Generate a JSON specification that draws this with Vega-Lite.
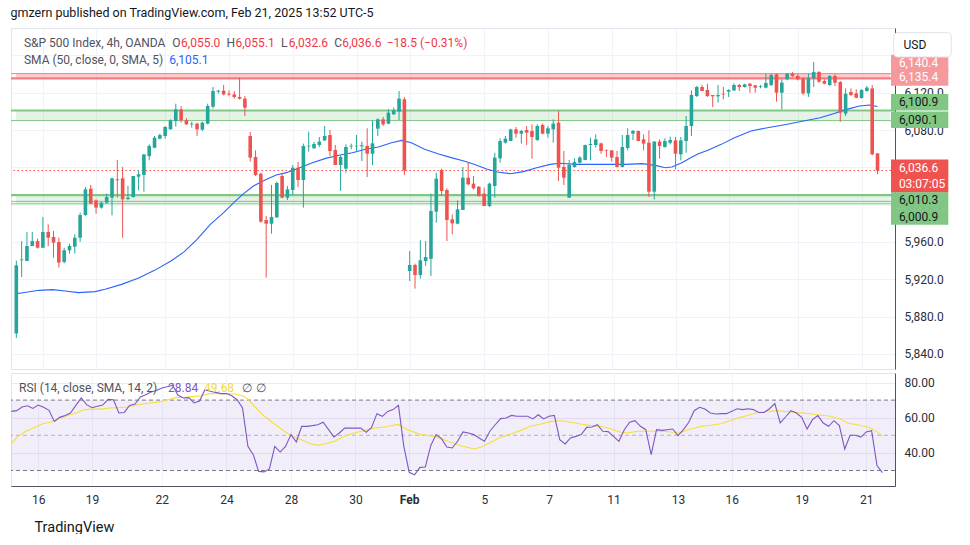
{
  "$schema": "https://vega.github.io/schema/vega-lite/v6.json",
  "padding": {"left": 10, "top": 6, "right": 0, "bottom": 0},
  "background": "white",
  "title": {"text": "gmzern published on TradingView.com, Feb 21, 2025 13:52 UTC-5", "anchor": "start", "fontSize": 12.5, "fontWeight": "normal", "font": "Roboto", "color": "#131722", "offset": 8.5},
  "spacing": 2,
  "datasets": {
    "candles": [
      {"i":0,"o":5862,"h":5940,"l":5857,"c":5935},
      {"i":1,"o":5940.4,"h":5961,"l":5922.5,"c":5941.3},
      {"i":2,"o":5939.6,"h":5970.7,"l":5939.6,"c":5955.7},
      {"i":3,"o":5955.7,"h":5970.7,"l":5955.7,"c":5961},
      {"i":4,"o":5961,"h":5963.6,"l":5952.9,"c":5953.9},
      {"i":5,"o":5953.9,"h":5986.8,"l":5953.9,"c":5970.7},
      {"i":6,"o":5970.7,"h":5978.9,"l":5955.7,"c":5964.6},
      {"i":7,"o":5965.4,"h":5971.8,"l":5943.2,"c":5959.3},
      {"i":8,"o":5960,"h":5964.6,"l":5932.5,"c":5937.9},
      {"i":9,"o":5938.6,"h":5953.9,"l":5937.1,"c":5951.1},
      {"i":10,"o":5951.1,"h":5958.2,"l":5947.5,"c":5955.7},
      {"i":11,"o":5955,"h":5968.2,"l":5947.5,"c":5964.6},
      {"i":12,"o":5964.6,"h":5991.4,"l":5960,"c":5988.9},
      {"i":13,"o":5988.9,"h":6018.9,"l":5988,"c":6016.4},
      {"i":14,"o":6017.1,"h":6021.1,"l":6000.4,"c":6001.1},
      {"i":15,"o":6004.6,"h":6005.7,"l":5990.4,"c":5996.8},
      {"i":16,"o":5996.8,"h":6003.2,"l":5995.7,"c":6002.1},
      {"i":17,"o":6002.1,"h":6011.8,"l":6001,"c":6008.2},
      {"i":18,"o":6007.5,"h":6028.9,"l":5988.6,"c":6028.2},
      {"i":19,"o":6027.1,"h":6047.9,"l":6007.5,"c":6026.1},
      {"i":20,"o":6028.2,"h":6040.4,"l":5964.6,"c":6005.7},
      {"i":21,"o":6006,"h":6020,"l":6004.6,"c":6007.5},
      {"i":22,"o":6008.2,"h":6030.7,"l":6007.5,"c":6030.7},
      {"i":23,"o":6030,"h":6036.8,"l":6015.4,"c":6032.5},
      {"i":24,"o":6031.8,"h":6054,"l":6013.9,"c":6053.9},
      {"i":25,"o":6052,"h":6064.6,"l":6047.5,"c":6062.9},
      {"i":26,"o":6061,"h":6073.6,"l":6060.4,"c":6071.8},
      {"i":27,"o":6070.7,"h":6076.1,"l":6070,"c":6074.6},
      {"i":28,"o":6073.6,"h":6084.3,"l":6070.7,"c":6083.2},
      {"i":29,"o":6080.7,"h":6091.4,"l":6080.7,"c":6090.4},
      {"i":30,"o":6089.6,"h":6108.2,"l":6083.6,"c":6102.1},
      {"i":31,"o":6102.1,"h":6105.7,"l":6087.9,"c":6090.4},
      {"i":32,"o":6090.4,"h":6092.5,"l":6085.4,"c":6086.1},
      {"i":33,"o":6086.1,"h":6088.9,"l":6082.5,"c":6086.8},
      {"i":34,"o":6086.8,"h":6087.9,"l":6073.6,"c":6080.7},
      {"i":35,"o":6080.4,"h":6088.9,"l":6078.9,"c":6087.9},
      {"i":36,"o":6086.8,"h":6108.2,"l":6086.1,"c":6105.7},
      {"i":37,"o":6105,"h":6126.1,"l":6102.9,"c":6121.8},
      {"i":38,"o":6121.1,"h":6122.9,"l":6119,"c":6122.1},
      {"i":39,"o":6122.1,"h":6128.2,"l":6117.1,"c":6118.2},
      {"i":40,"o":6119,"h":6122.5,"l":6116.1,"c":6118},
      {"i":41,"o":6118.2,"h":6121.8,"l":6113.6,"c":6115.4},
      {"i":42,"o":6115.4,"h":6136.1,"l":6112.5,"c":6113.6},
      {"i":43,"o":6113.6,"h":6116.4,"l":6095,"c":6103.9},
      {"i":44,"o":6073.6,"h":6077.9,"l":6046.1,"c":6050.4},
      {"i":45,"o":6051.1,"h":6058.2,"l":6030.7,"c":6031.8},
      {"i":46,"o":6033.2,"h":6034.3,"l":5980.7,"c":5981.8},
      {"i":47,"o":5983.6,"h":5987.9,"l":5921.8,"c":5979.6},
      {"i":48,"o":5979.6,"h":6021.1,"l":5968.9,"c":5986.8},
      {"i":49,"o":5986.4,"h":6024.6,"l":5986,"c":6023.2},
      {"i":50,"o":6030.7,"h":6033.6,"l":6006.8,"c":6007.5},
      {"i":51,"o":6007.5,"h":6020,"l":6005,"c":6016.4},
      {"i":52,"o":6015.7,"h":6042.5,"l":6010.4,"c":6039.6},
      {"i":53,"o":6039.6,"h":6045.7,"l":6018.9,"c":6026.4},
      {"i":54,"o":6026.4,"h":6065.4,"l":5996.8,"c":6062.9},
      {"i":55,"o":6062.5,"h":6078.2,"l":6056.8,"c":6063.2},
      {"i":56,"o":6060.4,"h":6067.1,"l":6060,"c":6065},
      {"i":57,"o":6063.9,"h":6072.5,"l":6061.8,"c":6067.5},
      {"i":58,"o":6068.9,"h":6084.3,"l":6068.2,"c":6073.6},
      {"i":59,"o":6074.6,"h":6080,"l":6052.1,"c":6057.5},
      {"i":60,"o":6058.6,"h":6063.9,"l":6042.5,"c":6042.5},
      {"i":61,"o":6042.5,"h":6052.9,"l":6014.6,"c":6051.1},
      {"i":62,"o":6038.6,"h":6064.6,"l":6034.3,"c":6061.8},
      {"i":63,"o":6062.5,"h":6065.4,"l":6059.3,"c":6063.2},
      {"i":64,"o":6062.5,"h":6074.6,"l":6056.8,"c":6063.2},
      {"i":65,"o":6062.5,"h":6067.5,"l":6046.8,"c":6063.6},
      {"i":66,"o":6062.9,"h":6081.8,"l":6029.6,"c":6054.6},
      {"i":67,"o":6054.6,"h":6090.4,"l":6042.5,"c":6065.7},
      {"i":68,"o":6081.4,"h":6092.5,"l":6073.6,"c":6091.4},
      {"i":69,"o":6091.4,"h":6094,"l":6084.3,"c":6086.1},
      {"i":70,"o":6086.8,"h":6102.1,"l":6086.1,"c":6098.6},
      {"i":71,"o":6096.8,"h":6104,"l":6096.1,"c":6101.1},
      {"i":72,"o":6099.6,"h":6121.8,"l":6090.4,"c":6113.6},
      {"i":73,"o":6112.9,"h":6115.4,"l":6031.8,"c":6036.8},
      {"i":74,"o":5928.9,"h":5950.4,"l":5918.2,"c":5935.4},
      {"i":75,"o":5935.4,"h":5936.8,"l":5910,"c":5924.6},
      {"i":76,"o":5924.6,"h":5961.8,"l":5920.7,"c":5940.4},
      {"i":77,"o":5939.6,"h":5961,"l":5934.3,"c":5943.9},
      {"i":78,"o":5942,"h":6011.8,"l":5923.6,"c":5993.2},
      {"i":79,"o":5992.5,"h":6034.3,"l":5980.7,"c":6027.9},
      {"i":80,"o":6037.1,"h":6038.6,"l":6009.3,"c":6014.6},
      {"i":81,"o":6015.7,"h":6017.5,"l":5961,"c":5983.6},
      {"i":82,"o":5984.3,"h":5989.6,"l":5968.2,"c":5980},
      {"i":83,"o":5979.6,"h":6004.6,"l":5978.9,"c":5995},
      {"i":84,"o":5994.3,"h":6040.4,"l":5994.3,"c":6028.9},
      {"i":85,"o":6028.9,"h":6045,"l":6020.7,"c":6021.8},
      {"i":86,"o":6022.5,"h":6030.7,"l":6016.4,"c":6017.5},
      {"i":87,"o":6019.3,"h":6019.6,"l":6008.6,"c":6009.3},
      {"i":88,"o":6011.8,"h":6018.2,"l":5998.6,"c":5998.6},
      {"i":89,"o":5998.6,"h":6023.6,"l":5997.5,"c":6022.5},
      {"i":90,"o":6020,"h":6055.7,"l":6007.5,"c":6050.4},
      {"i":91,"o":6049.6,"h":6071.1,"l":6045,"c":6068.2},
      {"i":92,"o":6066.4,"h":6073.6,"l":6065.4,"c":6070.7},
      {"i":93,"o":6068.2,"h":6081.4,"l":6068.2,"c":6080.7},
      {"i":94,"o":6080.7,"h":6083.2,"l":6071.8,"c":6076.1},
      {"i":95,"o":6076.1,"h":6080,"l":6065.4,"c":6079},
      {"i":96,"o":6080,"h":6084.3,"l":6063.9,"c":6077.1},
      {"i":97,"o":6078.9,"h":6086.1,"l":6049.3,"c":6072.5},
      {"i":98,"o":6069.3,"h":6086.1,"l":6068.2,"c":6084.3},
      {"i":99,"o":6085.4,"h":6086.8,"l":6075.4,"c":6076.1},
      {"i":100,"o":6076.1,"h":6084.3,"l":6071.8,"c":6081.8},
      {"i":101,"o":6080.7,"h":6091.4,"l":6066.4,"c":6086.8},
      {"i":102,"o":6087.9,"h":6100.4,"l":6025.4,"c":6039.6},
      {"i":103,"o":6040.4,"h":6057.5,"l":6021.1,"c":6028.9},
      {"i":104,"o":6007.5,"h":6047.9,"l":6007.5,"c":6042.5},
      {"i":105,"o":6040.4,"h":6049.6,"l":6039.6,"c":6045.7},
      {"i":106,"o":6045,"h":6052.1,"l":6043.9,"c":6050.4},
      {"i":107,"o":6047.9,"h":6064.3,"l":6047.5,"c":6063.9},
      {"i":108,"o":6063.9,"h":6071.8,"l":6047.5,"c":6065},
      {"i":109,"o":6063.9,"h":6075.4,"l":6061.1,"c":6070},
      {"i":110,"o":6065.7,"h":6066.4,"l":6054.6,"c":6057.5},
      {"i":111,"o":6058.6,"h":6059.3,"l":6051.1,"c":6057.9},
      {"i":112,"o":6058.2,"h":6058.2,"l":6046.1,"c":6050.4},
      {"i":113,"o":6051.1,"h":6057.5,"l":6040,"c":6040.4},
      {"i":114,"o":6040.4,"h":6074.6,"l":6040,"c":6061.8},
      {"i":115,"o":6060.7,"h":6081.8,"l":6058.2,"c":6074.6},
      {"i":116,"o":6076.1,"h":6080,"l":6069.3,"c":6079},
      {"i":117,"o":6079,"h":6079.3,"l":6067.9,"c":6068.2},
      {"i":118,"o":6070,"h":6075.4,"l":6058.2,"c":6065.4},
      {"i":119,"o":6066.4,"h":6079.6,"l":6008.2,"c":6013.9},
      {"i":120,"o":6013.9,"h":6068.2,"l":6005.7,"c":6067.5},
      {"i":121,"o":6067.5,"h":6070,"l":6049.3,"c":6062.9},
      {"i":122,"o":6061.8,"h":6071.1,"l":6061.1,"c":6068.2},
      {"i":123,"o":6066.4,"h":6072.9,"l":6064.6,"c":6069.3},
      {"i":124,"o":6068.9,"h":6072.5,"l":6037.9,"c":6054.6},
      {"i":125,"o":6053.9,"h":6072.5,"l":6047.5,"c":6068.9},
      {"i":126,"o":6068.2,"h":6095,"l":6055.7,"c":6084.3},
      {"i":127,"o":6084.3,"h":6122.5,"l":6073.6,"c":6117.5},
      {"i":128,"o":6116.4,"h":6127.1,"l":6115.4,"c":6126.1},
      {"i":129,"o":6126.1,"h":6128.2,"l":6121.8,"c":6121.8},
      {"i":130,"o":6122.9,"h":6129.6,"l":6115.4,"c":6116.4},
      {"i":131,"o":6117.5,"h":6117.5,"l":6104.6,"c":6116.1},
      {"i":132,"o":6116.1,"h":6128.2,"l":6109.3,"c":6117.5},
      {"i":133,"o":6118.9,"h":6126.1,"l":6112.9,"c":6118.2},
      {"i":134,"o":6121.1,"h":6123.6,"l":6115.4,"c":6122.9},
      {"i":135,"o":6122.5,"h":6130,"l":6121.8,"c":6128.2},
      {"i":136,"o":6128.2,"h":6129.6,"l":6121.8,"c":6126.1},
      {"i":137,"o":6126.1,"h":6129.6,"l":6125.4,"c":6128.9},
      {"i":138,"o":6129.6,"h":6130.4,"l":6120,"c":6127.1},
      {"i":139,"o":6127.9,"h":6128.2,"l":6120,"c":6125.4},
      {"i":140,"o":6126.1,"h":6128.2,"l":6124.6,"c":6126.8},
      {"i":141,"o":6125.4,"h":6140.4,"l":6124.6,"c":6130.4},
      {"i":142,"o":6128.2,"h":6140.4,"l":6127.1,"c":6138.9},
      {"i":143,"o":6139.6,"h":6140.4,"l":6110.4,"c":6120},
      {"i":144,"o":6120,"h":6134.3,"l":6102.1,"c":6130.7},
      {"i":145,"o":6134.3,"h":6140.7,"l":6133.2,"c":6140.4},
      {"i":146,"o":6140.4,"h":6142.1,"l":6136.8,"c":6137.9},
      {"i":147,"o":6137.9,"h":6139.6,"l":6133.2,"c":6134.3},
      {"i":148,"o":6135.4,"h":6136.1,"l":6117.5,"c":6119.3},
      {"i":149,"o":6119.3,"h":6140.4,"l":6115.4,"c":6135.4},
      {"i":150,"o":6135.4,"h":6152.9,"l":6126.1,"c":6142.1},
      {"i":151,"o":6142.1,"h":6143.2,"l":6130.7,"c":6131.8},
      {"i":152,"o":6132.5,"h":6134.3,"l":6128.9,"c":6129.6},
      {"i":153,"o":6128.2,"h":6138.6,"l":6127.1,"c":6137.9},
      {"i":154,"o":6137.9,"h":6139.6,"l":6127.1,"c":6130.7},
      {"i":155,"o":6131.4,"h":6132.5,"l":6088.6,"c":6098.6},
      {"i":156,"o":6097.5,"h":6124.6,"l":6095,"c":6118.9},
      {"i":157,"o":6120.7,"h":6124.6,"l":6116.4,"c":6117.5},
      {"i":158,"o":6119.3,"h":6123.6,"l":6113.9,"c":6114.6},
      {"i":159,"o":6114.3,"h":6123.6,"l":6113.6,"c":6122.9},
      {"i":160,"o":6121.8,"h":6127.1,"l":6121.1,"c":6125.4},
      {"i":161,"o":6124.6,"h":6128.2,"l":6052.9,"c":6053.9},
      {"i":162,"o":6055,"h":6055.1,"l":6032.6,"c":6036.6}
    ],
    "sma": [
      {"i":0,"v":5904.6},{"i":4.3,"v":5908.2},{"i":6.8,"v":5908.9},{"i":9.2,"v":5907.5},{"i":11.7,"v":5905.7},
      {"i":14.8,"v":5906.8},{"i":16.7,"v":5909.3},{"i":19.8,"v":5914.6},{"i":22.9,"v":5921.1},{"i":26,"v":5929.6},
      {"i":29.1,"v":5939.6},{"i":31.6,"v":5949.6},{"i":34,"v":5962.9},{"i":36.5,"v":5978.9},{"i":39,"v":5991.4},
      {"i":40.9,"v":6002.1},{"i":42.7,"v":6011.6},{"i":44.6,"v":6020},{"i":47.1,"v":6027.1},{"i":48.9,"v":6031.8},
      {"i":50.8,"v":6034.3},{"i":53.3,"v":6039.6},{"i":55.7,"v":6045},{"i":58.2,"v":6049.6},{"i":60.7,"v":6052.9},
      {"i":63.2,"v":6055.7},{"i":65.7,"v":6059.3},{"i":68.1,"v":6061.8},{"i":70.6,"v":6066.4},{"i":72.5,"v":6068.9},
      {"i":74.3,"v":6066.4},{"i":76.8,"v":6059.3},{"i":79.3,"v":6054.6},{"i":81.8,"v":6050.4},{"i":84.2,"v":6046.8},
      {"i":86.1,"v":6043.2},{"i":88.6,"v":6037.9},{"i":90.5,"v":6035},{"i":92.9,"v":6033.2},{"i":95.4,"v":6035.4},
      {"i":97.9,"v":6039.6},{"i":100.4,"v":6043.2},{"i":102.2,"v":6044.3},{"i":105.3,"v":6043.2},{"i":108.4,"v":6043.2},
      {"i":111.5,"v":6043.2},{"i":114.6,"v":6043.2},{"i":117.7,"v":6044},{"i":120.2,"v":6042.1},{"i":122.1,"v":6039.6},
      {"i":123.3,"v":6040.4},{"i":125.2,"v":6045},{"i":127.1,"v":6051.1},{"i":128.3,"v":6054.6},{"i":130.1,"v":6058.2},
      {"i":132.6,"v":6064.6},{"i":135.1,"v":6071.8},{"i":138.2,"v":6078.9},{"i":141.3,"v":6082.5},{"i":145,"v":6086.1},
      {"i":148.1,"v":6089.6},{"i":151.2,"v":6093.2},{"i":153.7,"v":6097.5},{"i":156.2,"v":6102.1},{"i":158.6,"v":6105.7},
      {"i":160.5,"v":6106.8},{"i":162,"v":6105.1}
    ],
    "rsi": [
      {"i":0,"r":63.6},{"i":1,"r":64.0},{"i":2,"r":66.1},{"i":3,"r":66.8},{"i":4,"r":65.3},{"i":5,"r":67.2},{"i":6,"r":65.9},{"i":7,"r":64.2},{"i":8,"r":57.9},{"i":9,"r":60.2},
      {"i":10,"r":61.2},{"i":11,"r":62.7},{"i":12,"r":67.0},{"i":13,"r":71.2},{"i":14,"r":67.4},{"i":15,"r":65.7},{"i":16,"r":66.5},{"i":17,"r":67.2},{"i":18,"r":70.4},{"i":19,"r":70.2},
      {"i":20,"r":62.7},{"i":21,"r":63.0},{"i":22,"r":67.0},{"i":23,"r":67.8},{"i":24,"r":71.8},{"i":25,"r":73.1},{"i":26,"r":74.6},{"i":27,"r":75.5},{"i":28,"r":76.9},{"i":29,"r":77.6},
      {"i":30,"r":78.4},{"i":31,"r":72.7},{"i":32,"r":71.2},{"i":33,"r":71.4},{"i":34,"r":68.4},{"i":35,"r":69.5},{"i":36,"r":75.9},{"i":37,"r":75.0},{"i":38,"r":74.4},{"i":39,"r":73.7},
      {"i":40,"r":73.7},{"i":41,"r":72.5},{"i":42,"r":70.2},{"i":43,"r":65.5},{"i":44,"r":43.7},{"i":45,"r":39.0},{"i":46,"r":29.5},{"i":47,"r":29.2},{"i":48,"r":30.9},{"i":49,"r":43.7},
      {"i":50,"r":40.5},{"i":51,"r":43.7},{"i":52,"r":50.4},{"i":53,"r":46.2},{"i":54,"r":55.1},{"i":55,"r":55.1},{"i":56,"r":55.5},{"i":57,"r":56.0},{"i":58,"r":57.4},{"i":59,"r":53.2},
      {"i":60,"r":49.0},{"i":61,"r":51.3},{"i":62,"r":54.1},{"i":63,"r":54.1},{"i":64,"r":54.1},{"i":65,"r":54.1},{"i":66,"r":51.7},{"i":67,"r":54.5},{"i":68,"r":62.3},{"i":69,"r":60.8},
      {"i":70,"r":63.6},{"i":71,"r":64.6},{"i":72,"r":67.0},{"i":73,"r":43.7},{"i":74,"r":29.0},{"i":75,"r":27.6},{"i":76,"r":31.8},{"i":77,"r":32.0},{"i":78,"r":44.1},{"i":79,"r":50.4},
      {"i":80,"r":48.1},{"i":81,"r":43.4},{"i":82,"r":42.8},{"i":83,"r":46.6},{"i":84,"r":51.9},{"i":85,"r":51.3},{"i":86,"r":50.4},{"i":87,"r":48.5},{"i":88,"r":46.6},{"i":89,"r":52.3},
      {"i":90,"r":56.0},{"i":91,"r":59.5},{"i":92,"r":59.8},{"i":93,"r":61.3},{"i":94,"r":60.8},{"i":95,"r":60.8},{"i":96,"r":60.8},{"i":97,"r":59.3},{"i":98,"r":61.7},{"i":99,"r":59.3},
      {"i":100,"r":60.8},{"i":101,"r":61.3},{"i":102,"r":47.5},{"i":103,"r":45.1},{"i":104,"r":48.5},{"i":105,"r":49.4},{"i":106,"r":50.4},{"i":107,"r":54.5},{"i":108,"r":54.7},{"i":109,"r":56.0},
      {"i":110,"r":52.3},{"i":111,"r":52.1},{"i":112,"r":49.4},{"i":113,"r":46.6},{"i":114,"r":53.2},{"i":115,"r":57.4},{"i":116,"r":58.3},{"i":117,"r":55.1},{"i":118,"r":53.2},{"i":119,"r":39.0},
      {"i":120,"r":53.2},{"i":121,"r":52.8},{"i":122,"r":53.2},{"i":123,"r":53.6},{"i":124,"r":49.8},{"i":125,"r":53.2},{"i":126,"r":57.4},{"i":127,"r":64.0},{"i":128,"r":65.9},{"i":129,"r":64.9},
      {"i":130,"r":62.7},{"i":131,"r":62.1},{"i":132,"r":62.3},{"i":133,"r":62.3},{"i":134,"r":63.6},{"i":135,"r":65.1},{"i":136,"r":64.6},{"i":137,"r":65.1},{"i":138,"r":64.6},{"i":139,"r":63.0},
      {"i":140,"r":63.0},{"i":141,"r":65.1},{"i":142,"r":68.0},{"i":143,"r":57.0},{"i":144,"r":60.4},{"i":145,"r":64.0},{"i":146,"r":62.7},{"i":147,"r":60.2},{"i":148,"r":53.6},{"i":149,"r":58.9},
      {"i":150,"r":61.2},{"i":151,"r":57.0},{"i":152,"r":55.1},{"i":153,"r":58.3},{"i":154,"r":55.5},{"i":155,"r":42.2},{"i":156,"r":50.0},{"i":157,"r":50.0},{"i":158,"r":49.0},{"i":159,"r":51.9},
      {"i":160,"r":52.6},{"i":161,"r":32.8},{"i":162,"r":28.84}
    ],
    "rsima": [
      {"i":0,"m":45.2},{"i":1.2,"m":49.4},{"i":2.7,"m":52.3},{"i":4.3,"m":54.5},{"i":5.8,"m":56.6},{"i":7.4,"m":57.6},{"i":8.9,"m":59.5},{"i":10.5,"m":61.2},
      {"i":12,"m":62.7},{"i":13.6,"m":64.6},{"i":15.1,"m":64.9},{"i":16.7,"m":64.9},{"i":18.2,"m":65.5},{"i":19.8,"m":65.7},{"i":21.3,"m":65.9},{"i":22.9,"m":67.0},
      {"i":24.4,"m":67.8},{"i":26,"m":68.5},{"i":27.5,"m":68.9},{"i":29.1,"m":70.2},{"i":30.6,"m":71.4},{"i":32.2,"m":71.6},{"i":33.7,"m":72.0},{"i":35.3,"m":72.5},
      {"i":36.8,"m":73.7},{"i":38.4,"m":73.7},{"i":39.9,"m":73.7},{"i":41.5,"m":73.5},{"i":43,"m":72.5},{"i":44,"m":70.6},{"i":45.2,"m":66.5},{"i":47.1,"m":60.8},
      {"i":48.9,"m":56.6},{"i":50.8,"m":52.3},{"i":52,"m":49.8},{"i":53.9,"m":47.5},{"i":55.7,"m":45.2},{"i":57,"m":44.3},{"i":58.2,"m":45.1},{"i":60.1,"m":46.6},
      {"i":61.9,"m":49.4},{"i":63.8,"m":51.3},{"i":65.7,"m":52.8},{"i":67.5,"m":54.1},{"i":69.4,"m":54.7},{"i":71.9,"m":56.2},{"i":73.7,"m":53.2},{"i":76.2,"m":50.4},
      {"i":78.7,"m":49.4},{"i":81.2,"m":46.6},{"i":83.6,"m":44.1},{"i":86.1,"m":42.2},{"i":87.4,"m":43.4},{"i":89.2,"m":46.0},{"i":91.1,"m":49.0},{"i":92.9,"m":50.7},
      {"i":94.8,"m":52.8},{"i":96.6,"m":55.1},{"i":98.5,"m":56.4},{"i":100.4,"m":57.9},{"i":102.2,"m":58.3},{"i":104.1,"m":57.4},{"i":105.9,"m":56.4},{"i":107.8,"m":55.5},
      {"i":109.7,"m":55.1},{"i":111.5,"m":53.6},{"i":113.4,"m":51.7},{"i":114.6,"m":51.3},{"i":116.5,"m":52.3},{"i":118.9,"m":52.3},{"i":120.8,"m":52.3},{"i":122.7,"m":51.9},
      {"i":124.6,"m":51.7},{"i":126.4,"m":53.6},{"i":128.3,"m":55.1},{"i":130.1,"m":55.7},{"i":132,"m":56.6},{"i":133.2,"m":57.9},{"i":135.1,"m":59.8},{"i":136.9,"m":61.3},
      {"i":138.8,"m":63.0},{"i":140.6,"m":63.6},{"i":142.5,"m":64.0},{"i":145,"m":63.2},{"i":147.4,"m":62.7},{"i":149.9,"m":61.7},{"i":152.4,"m":60.8},{"i":154.2,"m":59.3},
      {"i":155.5,"m":57.0},{"i":157.3,"m":56.0},{"i":159.2,"m":54.7},{"i":160.4,"m":53.2},{"i":162,"m":49.68}
    ],
    "zones": [
      {"lo":6135.4,"hi":6140.4,"k":"r"},
      {"lo":6090.1,"hi":6100.9,"k":"g"},
      {"lo":6000.9,"hi":6010.3,"k":"g"}
    ],
    "zlines": [
      {"p":6140.4,"k":"r1"},{"p":6135.4,"k":"r2"},
      {"p":6100.9,"k":"g2"},{"p":6090.1,"k":"g1"},
      {"p":6010.3,"k":"g2"},{"p":6003.5,"k":"g1"},{"p":6000.9,"k":"g1"}
    ],
    "last": [{"c":6036.6}],
    "hdr": [
      {"i":1.43,"p":6172.9,"t":"S&P 500 Index, 4h, OANDA","k":"g"},
      {"i":29.33,"p":6172.9,"t":"O","k":"g"},
      {"i":31.0,"p":6172.9,"t":"6,055.0","k":"r"},
      {"i":39.55,"p":6172.9,"t":"H","k":"g"},
      {"i":41.23,"p":6172.9,"t":"6,055.1","k":"r"},
      {"i":49.78,"p":6172.9,"t":"L","k":"g"},
      {"i":51.27,"p":6172.9,"t":"6,032.6","k":"r"},
      {"i":59.83,"p":6172.9,"t":"C","k":"g"},
      {"i":61.31,"p":6172.9,"t":"6,036.6","k":"r"},
      {"i":69.68,"p":6172.9,"t":"−18.5 (−0.31%)","k":"r"},
      {"i":1.43,"p":6154.7,"t":"SMA (50, close, 0, SMA, 5)","k":"g"},
      {"i":28.77,"p":6154.7,"t":"6,105.1","k":"b"}
    ],
    "rhdr": [
      {"i":1.43,"r":76.9,"t":"RSI (14, close, SMA, 14, 2)","k":"g"},
      {"i":29.14,"r":76.9,"t":"28.84","k":"p"},
      {"i":35.83,"r":76.9,"t":"49.68","k":"y"},
      {"i":42.9,"r":76.9,"t":"∅","k":"g"},
      {"i":45.5,"r":76.9,"t":"∅","k":"g"}
    ],
    "tags": [
      {"p":6151.8,"t":"6,140.4","k":"pink"},
      {"p":6136.3,"t":"6,135.4","k":"pink"},
      {"p":6109.7,"t":"6,100.9","k":"green"},
      {"p":6091.0,"t":"6,090.1","k":"green"},
      {"p":6039.6,"t":"6,036.6","k":"red"},
      {"p":6021.8,"t":"03:07:05","k":"red"},
      {"p":6004.5,"t":"6,010.3","k":"green"},
      {"p":5987.3,"t":"6,000.9","k":"green"}
    ],
    "usd": [{"t":"USD"}],
    "band": [{"hi":70,"lo":30}],
    "levels": [{"r":70},{"r":50},{"r":30}]
  },
  "vconcat": [
    {
      "width": 884,
      "height": 341,
      "layer": [
        {
          "data": {"name": "zones"},
          "mark": {"type": "rect", "clip": true},
          "encoding": {
            "x": {"datum": -0.06, "type": "quantitative", "scale": {"domain": [-0.06, 164.35], "nice": false, "zero": false},
                  "axis": {"labels": false, "ticks": false, "domain": false, "grid": true, "gridColor": "#f0f3fa", "title": null,
                           "values": [5,15,28,40,52,64,74,88,100,112,124,134,147,159]}},
            "x2": {"datum": 164.35},
            "y": {"field": "lo", "type": "quantitative", "scale": {"domain": [5823.9, 6189.3], "nice": false, "zero": false},
                  "axis": {"orient": "right", "values": [5840,5880,5920,5960,6000,6040,6080,6120,6160], "format": ",.1f",
                           "labelPadding": 9, "title": null, "grid": true, "gridColor": "#f0f3fa", "domainColor": "#50535e", "labelColor": "#2a2e39"}},
            "y2": {"field": "hi"},
            "color": {"condition": {"test": "datum.k == 'r'", "value": "#f23645"}, "value": "#4caf50"},
            "opacity": {"condition": {"test": "datum.k == 'r'", "value": 0.25}, "value": 0.15}
          }
        },
        {
          "data": {"name": "zlines"},
          "mark": {"type": "rule", "clip": true},
          "encoding": {
            "y": {"field": "p", "type": "quantitative"},
            "color": {"condition": {"test": "datum.k == 'r1' || datum.k == 'r2'", "value": "#f77c80"}, "value": "#81c784"},
            "strokeWidth": {"condition": {"test": "datum.k == 'r2' || datum.k == 'g2'", "value": 2.2}, "value": 1}
          }
        },
        {
          "data": {"name": "last"},
          "mark": {"type": "rule", "strokeDash": [1.5, 2.5], "color": "#ef5350", "strokeWidth": 1, "clip": true},
          "encoding": {"y": {"field": "c", "type": "quantitative"}}
        },
        {
          "data": {"name": "sma"},
          "mark": {"type": "line", "color": "#2962ff", "strokeWidth": 1.1, "clip": true},
          "encoding": {
            "x": {"field": "i", "type": "quantitative"},
            "y": {"field": "v", "type": "quantitative"}
          }
        },
        {
          "data": {"name": "candles"},
          "mark": {"type": "rule", "strokeWidth": 1, "clip": true},
          "encoding": {
            "x": {"field": "i", "type": "quantitative"},
            "y": {"field": "l", "type": "quantitative"},
            "y2": {"field": "h"},
            "color": {"condition": {"test": "datum.c >= datum.o", "value": "#26a69a"}, "value": "#ef5350"}
          }
        },
        {
          "data": {"name": "candles"},
          "mark": {"type": "bar", "size": 3.6, "clip": true},
          "encoding": {
            "x": {"field": "i", "type": "quantitative"},
            "y": {"field": "o", "type": "quantitative"},
            "y2": {"field": "c"},
            "color": {"condition": {"test": "datum.c >= datum.o", "value": "#26a69a"}, "value": "#ef5350"}
          }
        },
        {
          "data": {"name": "hdr"},
          "mark": {"type": "text", "align": "left", "baseline": "middle", "fontSize": 12, "font": "Roboto"},
          "encoding": {
            "x": {"field": "i", "type": "quantitative"},
            "y": {"field": "p", "type": "quantitative"},
            "text": {"field": "t"},
            "color": {"field": "k", "type": "nominal", "scale": {"domain": ["g","r","b","p","y"], "range": ["#50535e","#f23645","#2962ff","#7e57c2","#f2d73c"]}, "legend": null}
          }
        },
        {
          "data": {"name": "tags"},
          "mark": {"type": "rule", "strokeWidth": 16.5, "strokeCap": "butt"},
          "encoding": {
            "x": {"datum": 164.54, "type": "quantitative"},
            "x2": {"datum": 175.32},
            "y": {"field": "p", "type": "quantitative"},
            "color": {"condition": [{"test": "datum.k == 'green'", "value": "#81c784"}, {"test": "datum.k == 'red'", "value": "#ef5350"}], "value": "#f6999c"}
          }
        },
        {
          "data": {"name": "tags"},
          "mark": {"type": "text", "align": "left", "baseline": "middle", "fontSize": 12, "font": "Roboto"},
          "encoding": {
            "x": {"datum": 166.02, "type": "quantitative"},
            "y": {"field": "p", "type": "quantitative"},
            "text": {"field": "t"},
            "color": {"condition": {"test": "datum.k == 'green'", "value": "#131722"}, "value": "#ffffff"}
          }
        },
        {
          "data": {"name": "usd"},
          "mark": {"type": "rect", "fill": "#ffffff", "stroke": "#e0e3eb", "strokeWidth": 1, "cornerRadius": 4},
          "encoding": {
            "x": {"datum": 165.04, "type": "quantitative"},
            "x2": {"datum": 175.88},
            "y": {"datum": 6184.3, "type": "quantitative"},
            "y2": {"datum": 6158.2}
          }
        },
        {
          "data": {"name": "usd"},
          "mark": {"type": "text", "align": "left", "baseline": "middle", "fontSize": 12, "font": "Roboto", "color": "#131722"},
          "encoding": {
            "x": {"datum": 166.9, "type": "quantitative"},
            "y": {"datum": 6171.1, "type": "quantitative"},
            "text": {"field": "t"}
          }
        }
      ]
    },
    {
      "width": 884,
      "height": 113,
      "layer": [
        {
          "data": {"name": "band"},
          "mark": {"type": "rect", "clip": true, "color": "#7e57c2", "opacity": 0.1},
          "encoding": {
            "x": {"datum": -0.06, "type": "quantitative", "scale": {"domain": [-0.06, 164.35], "nice": false, "zero": false},
                  "axis": {"orient": "bottom", "values": [5,15,28,40,52,64,74,88,100,112,124,134,147,159],
                           "labelExpr": "['16','19','22','24','28','30','Feb','5','7','11','13','16','19','21'][indexof([5,15,28,40,52,64,74,88,100,112,124,134,147,159], datum.value)]",
                           "labelPadding": 8, "labelColor": "#2a2e39",
                           "labelFontWeight": {"condition": {"test": "datum.value == 74", "value": "bold"}, "value": "normal"},
                           "domainColor": "#50535e", "grid": true, "gridColor": "#f0f3fa", "ticks": false,
                           "title": "TradingView", "titleX": 23, "titleAlign": "left", "titleFontSize": 14.5, "titleFont": "Roboto",
                           "titleFontWeight": "normal", "titleColor": "#131722", "titlePadding": 15}},
            "x2": {"datum": 164.35},
            "y": {"field": "hi", "type": "quantitative", "scale": {"domain": [21.2, 85.4], "nice": false, "zero": false},
                  "axis": {"orient": "right", "values": [40, 60, 80], "format": ".2f", "labelPadding": 9, "title": null,
                           "grid": true, "gridColor": "#ece9f5", "domainColor": "#50535e", "ticks": false, "labelColor": "#2a2e39"}},
            "y2": {"field": "lo"}
          }
        },
        {
          "data": {"name": "levels"},
          "mark": {"type": "rule", "strokeDash": [4, 3], "color": "#787b86", "strokeWidth": 1, "clip": true},
          "encoding": {
            "y": {"field": "r", "type": "quantitative"},
            "opacity": {"condition": {"test": "datum.r == 50", "value": 0.5}, "value": 1}
          }
        },
        {
          "data": {"name": "rsima"},
          "mark": {"type": "line", "color": "#f5df3a", "strokeWidth": 1.1, "clip": true},
          "encoding": {
            "x": {"field": "i", "type": "quantitative"},
            "y": {"field": "m", "type": "quantitative"}
          }
        },
        {
          "data": {"name": "rsi"},
          "mark": {"type": "line", "color": "#7e57c2", "strokeWidth": 1.1, "clip": true},
          "encoding": {
            "x": {"field": "i", "type": "quantitative"},
            "y": {"field": "r", "type": "quantitative"}
          }
        },
        {
          "data": {"name": "rhdr"},
          "mark": {"type": "text", "align": "left", "baseline": "middle", "fontSize": 12, "font": "Roboto"},
          "encoding": {
            "x": {"field": "i", "type": "quantitative"},
            "y": {"field": "r", "type": "quantitative"},
            "text": {"field": "t"},
            "color": {"field": "k", "type": "nominal", "scale": {"domain": ["g","r","b","p","y"], "range": ["#50535e","#f23645","#2962ff","#7e57c2","#f2d73c"]}, "legend": null}
          }
        }
      ]
    }
  ],
  "config": {
    "font": "Roboto",
    "view": {"stroke": "#e0e3eb", "strokeWidth": 1},
    "axis": {"labelFont": "Roboto", "labelFontSize": 12, "ticks": false},
    "concat": {"spacing": 2}
  }
}
